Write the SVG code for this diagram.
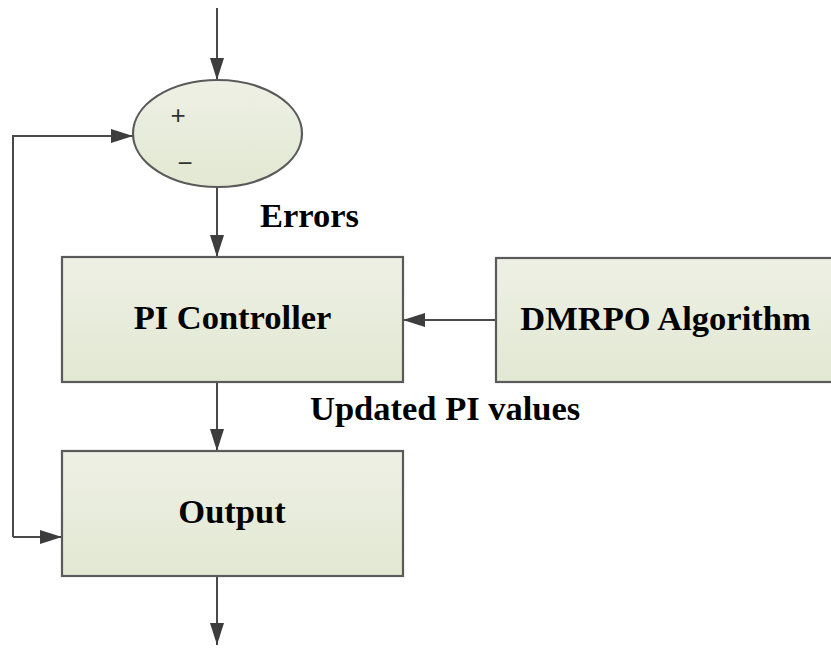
<svg xmlns="http://www.w3.org/2000/svg" width="831" height="652" viewBox="0 0 831 652">
  <defs>
    <linearGradient id="fillGrad" x1="0" y1="0" x2="0" y2="1">
      <stop offset="0" stop-color="#eef0e5"/>
      <stop offset="1" stop-color="#e2e8d2"/>
    </linearGradient>
    <marker id="arrow" viewBox="0 0 22 14" refX="22" refY="7" markerWidth="22" markerHeight="14" markerUnits="userSpaceOnUse" orient="auto">
      <path d="M0,0 L22,7 L0,14 Z" fill="#3d3d3d"/>
    </marker>
    <style>
      .box { fill: url(#fillGrad); stroke: #5a5a5a; stroke-width: 2.2; }
      .wire { fill: none; stroke: #4a4a4a; stroke-width: 2; marker-end: url(#arrow); }
      .label { font-family: "Liberation Serif", "Times New Roman", serif; font-weight: bold; font-size: 34.5px; fill: #000; }
      .sign { font-family: "Liberation Sans", Arial, sans-serif; font-size: 26px; fill: #333; }
    </style>
  </defs>

  <rect width="831" height="652" fill="#ffffff"/>

  <g id="connectors">
    <path class="wire" d="M217,8 V80"/>
    <path class="wire" d="M217,187 V257"/>
    <path class="wire" d="M217,382 V451"/>
    <path class="wire" d="M217,576 V645"/>
    <path class="wire" d="M496,320 H403"/>
    <path class="wire" d="M13,537 V136 H133"/>
    <path class="wire" d="M13,537 H62"/>
  </g>

  <g id="summing-junction">
    <ellipse class="box" cx="217.5" cy="133.5" rx="84.5" ry="53.5"/>
    <text class="sign" x="178" y="124" text-anchor="middle">+</text>
    <text class="sign" x="185" y="172" text-anchor="middle">−</text>
  </g>

  <g id="pi-controller">
    <rect class="box" x="62" y="257" width="341" height="125"/>
    <text class="label" x="232.5" y="329" text-anchor="middle">PI Controller</text>
  </g>

  <g id="dmrpo-algorithm">
    <rect class="box" x="496" y="258" width="339" height="124"/>
    <text class="label" x="665.5" y="330" text-anchor="middle">DMRPO Algorithm</text>
  </g>

  <g id="output">
    <rect class="box" x="62" y="451" width="341" height="125"/>
    <text class="label" x="232" y="523" text-anchor="middle">Output</text>
  </g>

  <g id="edge-labels">
    <text class="label" x="260" y="227">Errors</text>
    <text class="label" x="310" y="420">Updated PI values</text>
  </g>
</svg>
